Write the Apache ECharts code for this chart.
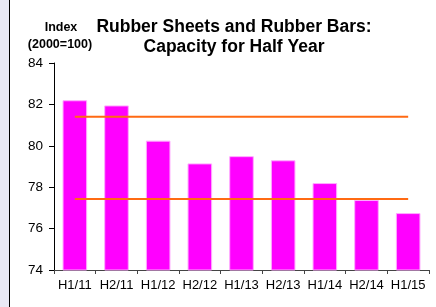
<!DOCTYPE html>
<html><head><meta charset="utf-8">
<script src="https://cdn.jsdelivr.net/npm/echarts@6/dist/echarts.min.js"></script>
<style>html,body{margin:0;padding:0;background:#fff}#c{width:436px;height:307px}</style>
</head><body><div id="c"></div>
<script>
var categories = ['H1/11','H2/11','H1/12','H2/12','H1/13','H2/13','H1/14','H2/14','H1/15'];
var capacity = [82.2, 81.95, 80.25, 79.15, 79.5, 79.3, 78.2, 77.38, 76.75];
var upperLevel = [81.4, 81.4, 81.4, 81.4, 81.4, 81.4, 81.4, 81.4, 81.4];
var lowerLevel = [77.43, 77.43, 77.43, 77.43, 77.43, 77.43, 77.43, 77.43, 77.43];
var yTicks = [74, 76, 78, 80, 82, 84];

var chart = echarts.init(document.getElementById('c'), null, {renderer:'canvas'});
var font = 'Liberation Sans, Arial, sans-serif';
chart.setOption({
  animation: false,
  backgroundColor: '#fff',
  graphic: [
    {type:'rect', shape:{x:0,y:0,width:9,height:307}, style:{fill:'#e9e9f5'}, silent:true},
    {type:'line', shape:{x1:9.5,y1:0,x2:9.5,y2:307}, style:{stroke:'#000',lineWidth:1}, silent:true},
    {type:'text', x:61, y:28, style:{text:'Index', font:'bold 12.5px '+font, fill:'#000', align:'center', verticalAlign:'middle'}},
    {type:'text', x:60, y:45, style:{text:'(2000=100)', font:'bold 12.5px '+font, fill:'#000', align:'center', verticalAlign:'middle'}}
  ],
  title: {
    text: 'Rubber Sheets and Rubber Bars:\nCapacity for Half Year',
    left: 229, top: 12, textAlign: 'center',
    textStyle: {fontFamily: font, fontWeight:'bold', fontSize:17.5, lineHeight:20, color:'#000'}
  },
  grid: {left:54, right:7, top:63, bottom:37, containLabel:false},
  xAxis: {
    type:'category', data: categories,
    axisLine:{lineStyle:{color:'#444'}},
    axisTick:{show:true, length:4, lineStyle:{color:'#444'}, alignWithLabel:false},
    axisLabel:{color:'#000', fontFamily:font, fontSize:13, margin:9, interval:0}
  },
  yAxis: {
    type:'value', min: yTicks[0], max: yTicks[yTicks.length-1], interval:2,
    axisLine:{show:true, lineStyle:{color:'#000'}},
    axisTick:{show:true, length:5, lineStyle:{color:'#000'}},
    splitLine:{show:false},
    axisLabel:{color:'#000', fontFamily:font, fontSize:13.5, margin:11}
  },
  series: [
    {type:'bar', data: capacity, barWidth:'59%',
     itemStyle:{color:'#ff00ff', borderColor:'#ffaaff', borderWidth:1}},
    {type:'line', data: upperLevel, symbol:'none', z:3,
     lineStyle:{color:'#ff6a13', width:2}},
    {type:'line', data: lowerLevel, symbol:'none', z:3,
     lineStyle:{color:'#ff6a13', width:2}}
  ]
});
</script></body></html>
